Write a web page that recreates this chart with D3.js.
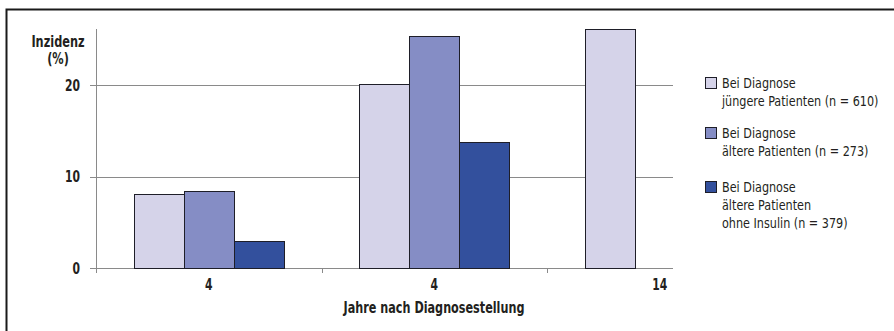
<!DOCTYPE html>
<html>
<head>
<meta charset="utf-8">
<script src="https://cdn.jsdelivr.net/npm/d3@7"></script>
<style>
  body { margin: 0; background: #fff; }
  svg text { font-family: "DejaVu Sans Condensed", "DejaVu Sans", sans-serif; fill: #231f20; }
</style>
</head>
<body>
<div id="wrapper"></div>
<script>
// Daten
const categories = ["a", "b", "c"];
const tickLabels = ["4", "4", "14"];
const seriesNames = [
    ["Bei Diagnose", "jüngere Patienten (n = 610)"],
    ["Bei Diagnose", "ältere Patienten (n = 273)"],
    ["Bei Diagnose", "ältere Patienten", "ohne Insulin (n = 379)"]
];
const youngValues = [8.1, 20.1, 26.1];
const olderValues = [8.4, 25.4, null];
const noInsulinValues = [3.0, 13.8, null];
const yTicks = [0, 10, 20];
const colors = ["#d5d3e9", "#858dc5", "#33509d"];

const series = [youngValues, olderValues, noInsulinValues];

const width = 894, height = 331;

const svg = d3.select("#wrapper")
    .append("svg")
    .attr("width", width)
    .attr("height", height);

// schmale Schrift: horizontal gestaucht
const sx = 0.8;
function label(sel, x, y, size, bold, anchor, txt, scale) {
    return sel.append("text")
        .attr("transform", `translate(${x},${y}) scale(${scale || sx},1)`)
        .attr("text-anchor", anchor)
        .attr("font-size", size + "px")
        .attr("font-weight", bold ? "bold" : "normal")
        .text(txt);
}

// Rahmen
svg.append("rect")
    .attr("x", 6.5).attr("y", 9.5)
    .attr("width", 1000).attr("height", 1000)
    .attr("fill", "none")
    .attr("stroke", "#1a1a1a")
    .attr("stroke-width", 2);

const plotRight = 673;
const y0 = 268;

const xScaler = d3.scaleBand()
    .domain(categories)
    .range([96, 96 + 3 * 225.5]);

const yScaler = d3.scaleLinear()
    .domain([0, 10])
    .range([y0, y0 - 91.5]);

// Gitterlinien
svg.append("g")
    .selectAll("line")
    .data(yTicks)
    .join("line")
    .attr("x1", 90)
    .attr("x2", plotRight)
    .attr("y1", d => Math.round(yScaler(d)) + 0.5)
    .attr("y2", d => Math.round(yScaler(d)) + 0.5)
    .attr("stroke", "#8a8a8a")
    .attr("stroke-width", 1);

const yLab = svg.append("g");
yTicks.forEach(d => label(yLab, 80, yScaler(d) + 5.5, 15, true, "end", d));

// y-Achse
svg.append("line")
    .attr("x1", 96.5).attr("x2", 96.5)
    .attr("y1", 29).attr("y2", 273)
    .attr("stroke", "#8a8a8a");

// x-Ticks an Bandgrenzen
svg.append("g")
    .selectAll("line")
    .data(categories.slice(1))
    .join("line")
    .attr("x1", d => Math.round(xScaler(d)) + 0.5)
    .attr("x2", d => Math.round(xScaler(d)) + 0.5)
    .attr("y1", y0)
    .attr("y2", y0 + 5)
    .attr("stroke", "#8a8a8a");

// Balken
const barW = 50;
const groups = svg.append("g")
    .selectAll("g")
    .data(categories)
    .join("g");

groups.selectAll("rect")
    .data((c, i) => series.map((s, j) => ({ v: s[i], j: j, c: c })).filter(d => d.v != null))
    .join("rect")
    .attr("x", d => Math.round(xScaler(d.c) + xScaler.bandwidth() / 2 - 1.5 * barW + d.j * barW) + 0.5)
    .attr("y", d => Math.round(yScaler(d.v)) + 0.5)
    .attr("width", barW)
    .attr("height", d => y0 - Math.round(yScaler(d.v)))
    .attr("fill", d => colors[d.j])
    .attr("stroke", "#1e1e28")
    .attr("stroke-width", 1);

// x-Beschriftung
const xLab = svg.append("g");
categories.forEach((c, i) =>
    label(xLab, xScaler(c) + xScaler.bandwidth() / 2, 290, 15, true, "middle", tickLabels[i]));

label(svg, 434, 313, 16, true, "middle", "Jahre nach Diagnosestellung", 0.78);

// y-Titel
label(svg, 58, 47, 15, true, "middle", "Inzidenz", 0.84);
label(svg, 58, 64, 15, true, "middle", "(%)", 0.84);

// Legende
const legendY = [77, 127, 181];
seriesNames.forEach((lines, i) => {
    const g = svg.append("g").attr("transform", `translate(705, ${legendY[i]})`);
    g.append("rect")
        .attr("x", 0.5).attr("y", 0.5)
        .attr("width", 11).attr("height", 11)
        .attr("fill", colors[i])
        .attr("stroke", "#1e1e28");
    lines.forEach((t, k) => label(g, 17, 11 + k * 18, 14.5, false, "start", t, 0.86));
});
</script>
</body>
</html>
